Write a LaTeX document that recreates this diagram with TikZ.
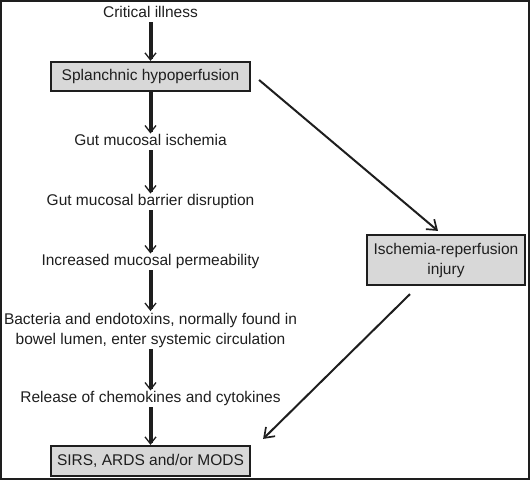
\documentclass[tikz,border=0pt]{standalone}
\usepackage{fontspec}
\setmainfont{Liberation Sans}
\usetikzlibrary{arrows.meta,calc}
\definecolor{boxgray}{RGB}{216,216,216}
\definecolor{ink}{RGB}{30,30,30}
\begin{document}
\begin{tikzpicture}[x=1pt,y=-1pt,
  every node/.style={font=\fontsize{15.5pt}{20pt}\selectfont, text=ink},
  lbl/.style={inner sep=1pt, text height=11pt, text depth=3.5pt, align=center},
  graybox/.style={draw=ink, fill=boxgray, line width=2.2pt, inner sep=2pt, align=center},
  mainarrow/.style={draw=ink, line width=4pt, -{Straight Barb[length=7pt,width=11pt,line width=1.3pt]}},
  sidearrow/.style={draw=ink, line width=2pt, -{Straight Barb[length=9pt,width=13pt,line width=1.7pt]}}
]
\useasboundingbox (0,0) rectangle (530,480);
\draw[line width=1.2pt, draw=ink] (1,1) rectangle (529,479);

\node[lbl] (ci) at (150.5,14) {Critical illness};
\node[graybox, minimum width=199pt, minimum height=29pt] (sh) at (150.5,76.5) {Splanchnic hypoperfusion};
\node[lbl] (gmi) at (150.5,142) {Gut mucosal ischemia};
\node[lbl] (gmb) at (150.5,202) {Gut mucosal barrier disruption};
\node[lbl] (imp) at (150.5,262) {Increased mucosal permeability};
\node[lbl, text height=, text depth=, inner sep=1.5pt] (bac) at (150.5,330) {Bacteria and endotoxins, normally found in\\bowel lumen, enter systemic circulation};
\node[lbl] (rel) at (150.5,399) {Release of chemokines and cytokines};
\node[graybox, minimum width=199pt, minimum height=30pt] (sirs) at (150.5,461) {SIRS, ARDS and/or MODS};
\node[graybox, minimum width=158pt, minimum height=50pt] (irj) at (446,260) {Ischemia-reperfusion\\injury};

\draw[mainarrow] (ci) -- (sh);
\draw[mainarrow] (sh) -- (gmi);
\draw[mainarrow] (gmi) -- (gmb);
\draw[mainarrow] (gmb) -- (imp);
\draw[mainarrow] (imp) -- (bac);
\draw[mainarrow] (bac) -- (rel);
\draw[mainarrow] (rel) -- (sirs);

\draw[sidearrow] ($(sh.east)+(8,3.5)$) -- ($(irj.north)+(-8,-3)$);
\draw[sidearrow] ($(irj.south)+(-36,8)$) -- ($(sirs.north east)+(12,-6)$);
\end{tikzpicture}
\end{document}
